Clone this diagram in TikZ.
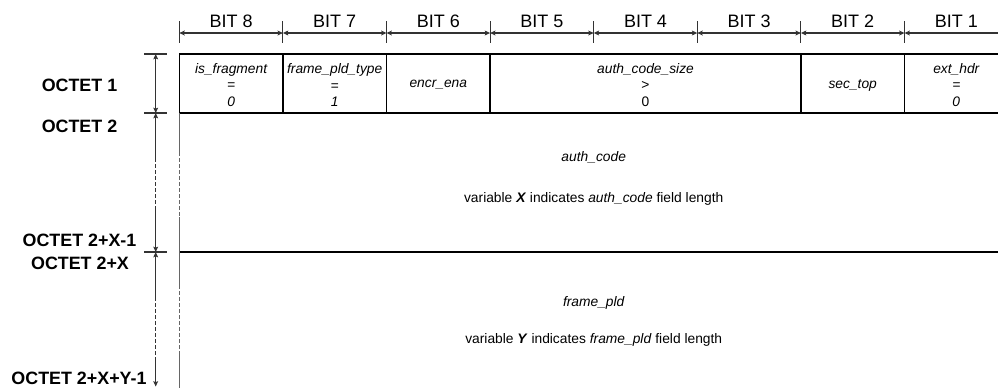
\documentclass[tikz,border=0pt]{standalone}
\usepackage{fontspec}
\setmainfont{Liberation Sans}
\usetikzlibrary{arrows.meta}
\begin{document}
\begin{tikzpicture}[x=0.75pt,y=-0.75pt,
  boxline/.style={line width=1pt, black},
  dimline/.style={line width=0.8pt, black!80},
  grayline/.style={line width=0.9pt, black!60},
  tipA/.tip={Stealth[length=4pt,width=3.6pt,inset=0.8pt]},
  dimarrow/.style={dimline, tipA-tipA},
  bitlbl/.style={font=\fontsize{13.5}{16}\selectfont, inner sep=0pt},
  octlbl/.style={font=\fontsize{13.4}{16}\selectfont\bfseries, inner sep=0pt},
  fld/.style={font=\fontsize{10.35}{12.4}\selectfont, align=center, inner sep=0pt},
  txt/.style={font=\fontsize{10.35}{12.4}\selectfont, inner sep=0pt}
]
\useasboundingbox (0,0) rectangle (998,387);
% column boundaries
\foreach \i in {0,...,8}{
  \pgfmathsetmacro{\xx}{179.3+103.6*\i}
  \coordinate (ta\i) at (\xx,21);
  \coordinate (tb\i) at (\xx,43);
  \coordinate (am\i) at (\xx,33);
  \coordinate (rt\i) at (\xx,54);
  \coordinate (rb\i) at (\xx,113);
  \coordinate (rx\i) at (\xx,252);
  \draw[dimline] (ta\i) -- (tb\i);
}
% bit labels and arrows
\foreach \i/\b in {0/8,1/7,2/6,3/5,4/4,5/3,6/2,7/1}{
  \pgfmathtruncatemacro{\j}{\i+1}
  \draw[dimarrow] (am\i) -- (am\j);
  \node[bitlbl] (bit\b) at ({179.3+103.6*\i+51.8},21.5) {BIT \b};
}
% first row box
\draw[boxline] (rt0) -- (rt8) (rt0) -- (rb0) (rb0) -- (rb8);
\foreach \i in {1,2,3,6,7}{ \draw[boxline] (rt\i) -- (rb\i); }
\draw[boxline] (rx0) -- (rx8);
% fields
\node[fld] (f8) at (231.1,85) {\itshape is\_fragment\\\itshape =\\\itshape 0};
\node[fld] (f7) at (334.7,85) {\itshape frame\_pld\_type\\\itshape =\\\itshape 1};
\node[fld] (f6) at (438.3,85) {\itshape encr\_ena};
\node[fld] (f5) at (645.5,85) {\itshape auth\_code\_size\\>\\0};
\node[fld] (f2) at (852.7,85) {\itshape sec\_top};
\node[fld] (f1) at (956.3,85) {\itshape ext\_hdr\\\itshape =\\\itshape 0};
% middle texts
\node[txt] (ac) at (593.7,157) {\itshape auth\_code};
\node[txt] (acx) at (593.7,199) {variable \textbf{\textit{X}} indicates \textit{auth\_code} field length};
\node[txt] (fp) at (593.7,303) {\itshape frame\_pld};
\node[txt] (fpy) at (593.7,340) {variable \textbf{\textit{Y}} indicates \textit{frame\_pld} field length};
% left vertical line of lower area
\coordinate (l1) at (179.3,113);
\coordinate (l2) at (179.3,152);
\coordinate (l3) at (179.3,217);
\coordinate (l4) at (179.3,285);
\coordinate (l5) at (179.3,352);
\coordinate (l6) at (179.3,390);
\draw[grayline] (l1) -- (l2);
\draw[grayline, dash pattern=on 3pt off 1.5pt] (l2) -- (l3);
\draw[grayline] (l3) -- (l4);
\draw[grayline, dash pattern=on 3pt off 1.5pt] (l4) -- (l5);
\draw[grayline] (l5) -- (l6);
% octet ticks
\foreach \y/\n in {54/a,113/b,252/c}{
  \coordinate (ol\n) at (144,\y);
  \coordinate (or\n) at (167,\y);
  \draw[dimline] (ol\n) -- (or\n);
}
\coordinate (d1) at (155.7,54);
\coordinate (d2) at (155.7,113);
\coordinate (d3) at (155.7,158);
\coordinate (d4) at (155.7,210);
\coordinate (d5) at (155.7,252);
\coordinate (d6) at (155.7,297);
\coordinate (d7) at (155.7,358);
\coordinate (d8) at (155.7,386.5);
\draw[dimarrow] (d1) -- (d2);
\draw[dimline, tipA-] (d2) -- (d3);
\draw[dimline, dash pattern=on 3pt off 1.5pt] (d3) -- (d4);
\draw[dimline, -tipA] (d4) -- (d5);
\draw[dimline, tipA-] (d5) -- (d6);
\draw[dimline, dash pattern=on 3pt off 1.5pt] (d6) -- (d7);
\draw[dimline, -tipA] (d7) -- (d8);
% octet labels
\node[octlbl] (o1) at (79.5,85) {OCTET 1};
\node[octlbl] (o2) at (79.5,126) {OCTET 2};
\node[octlbl] (o3) at (79.5,240) {OCTET 2+X-1};
\node[octlbl] (o4) at (80,263) {OCTET 2+X};
\node[octlbl] (o5) at (79,378.5) {OCTET 2+X+Y-1};
\end{tikzpicture}
\end{document}
